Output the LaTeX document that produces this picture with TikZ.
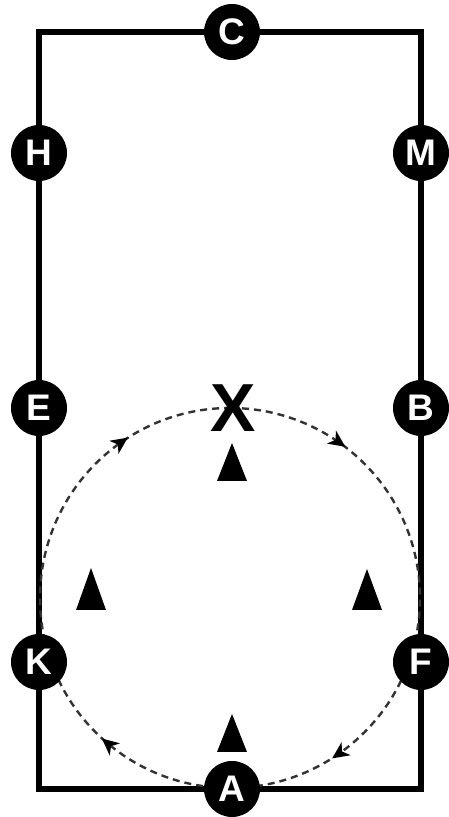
\documentclass[tikz,border=0pt]{standalone}
\usepackage{fontspec}
\setmainfont{Liberation Sans}
\usetikzlibrary{decorations.markings}
\begin{document}
\begin{tikzpicture}[x=1pt,y=1pt,
  marker/.style={circle,fill=black,draw=none,minimum size=56pt,inner sep=0pt,
    text=white,font=\fontsize{37}{37}\selectfont\bfseries},
  arena/.style={line width=6pt,line join=miter},
  route/.style={line width=2.4pt,black!80,dash pattern=on 7pt off 5pt},
  cone/.style={fill=black}]
\fill[white] (0,0) rectangle (449,817);
\useasboundingbox (0,0) rectangle (449,817);
\newcommand\headtip{\fill[black] (8pt,0pt) -- (-9pt,8pt) -- (-4pt,0pt) -- (-9pt,-8pt) -- cycle;}
% arena
\draw[arena] (39,28) rectangle (421,785);
% dashed circle with arrows
\draw[route,postaction={decorate},
  decoration={markings,
    mark=at position 0.097 with {\headtip},
    mark=at position 0.403 with {\headtip},
    mark=at position 0.611 with {\headtip},
    mark=at position 0.903 with {\headtip}}]
  (230,409) arc[start angle=90,end angle=-270,radius=190];
% X
\node[font=\fontsize{68}{68}\selectfont\bfseries,inner sep=0pt] (x) at (233,409) {X};
% cones
\fill[cone] (217,336) -- (232,374) -- (247,336) -- cycle;
\fill[cone] (76,207) -- (91,249) -- (106,207) -- cycle;
\fill[cone] (352,207) -- (367,248) -- (382,207) -- cycle;
\fill[cone] (217,65) -- (232,103) -- (247,65) -- cycle;
% markers
\node[marker] (c) at (232,785) {C};
\node[marker] (h) at (39,664) {H};
\node[marker] (m) at (421,664) {M};
\node[marker] (e) at (39,409) {E};
\node[marker] (b) at (421,409) {B};
\node[marker] (k) at (39,155) {K};
\node[marker] (f) at (421,155) {F};
\node[marker] (a) at (232,28) {A};
\end{tikzpicture}
\end{document}
